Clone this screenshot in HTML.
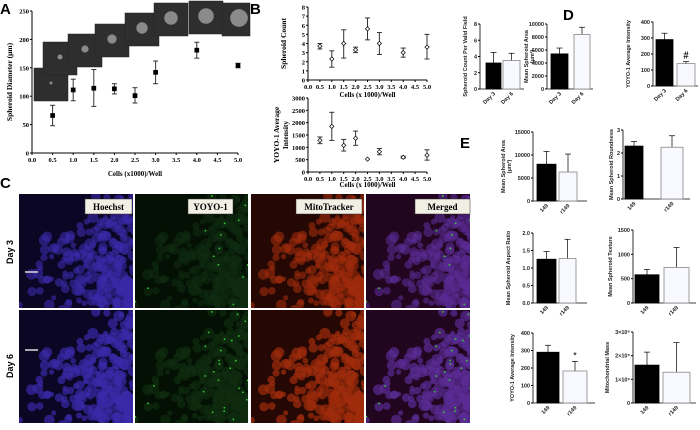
<!DOCTYPE html>
<html><head><meta charset="utf-8"><style>
html,body{margin:0;padding:0;background:#fff;width:700px;height:430px;overflow:hidden}
svg{display:block}
.ser{font-family:"Liberation Serif",serif;font-weight:bold}
.san{font-family:"Liberation Sans",sans-serif}
</style></head><body>
<svg id="fig" width="700" height="430" viewBox="0 0 700 430" xmlns="http://www.w3.org/2000/svg">
<text x="0" y="14" class="san" font-weight="bold" font-size="15">A</text>
<text x="250" y="14" class="san" font-weight="bold" font-size="15">B</text>
<text x="0" y="188" class="san" font-weight="bold" font-size="15">C</text>
<text x="563" y="20" class="san" font-weight="bold" font-size="15">D</text>
<text x="460" y="148" class="san" font-weight="bold" font-size="15">E</text>
<g id="root"></g>
</svg>
<script>
// Panel A data
var aX=[0.5,1,1.5,2,2.5,3,4,5];
var aY=[66,111,114,113,101,142,181,154];
var aLo=[48,92,82,104,88,122,167,150];
var aHi=[84,130,147,122,115,162,195,158];
// Panel B data
var bX=[0.5,1,1.5,2,2.5,3,4,5];
var bCount=[3.7,2.3,4.0,3.3,5.6,4.0,3.0,3.6];
var bCountLo=[3.4,1.4,2.4,3.0,4.4,2.8,2.5,2.3];
var bCountHi=[4.0,3.2,5.5,3.6,6.8,5.2,3.5,5.0];
var bYoyo=[1280,1850,1080,1370,520,820,600,680];
var bYoyoLo=[1150,1280,850,1080,520,700,560,480];
var bYoyoHi=[1420,2420,1320,1660,520,950,640,900];
var xTickLabels=["0.0","0.5","1.0","1.5","2.0","2.5","3.0","3.5","4.0","4.5","5.0"];
// Panel D data
var dCats=["Day 3","Day 6"];
var dCount=[3.2,3.5], dCountErr=[4.5,4.4];
var dArea=[5400,8400], dAreaErr=[6300,9500];
var dYoyo=[290,140], dYoyoErr=[330,152];
// Panel E data
var eCats=["149","r149"];
var eArea=[8000,6300], eAreaErr=[10800,10200];
var eRound=[2.3,2.25], eRoundErr=[2.5,2.75];
var eAspect=[1.25,1.27], eAspectErr=[1.47,1.82];
var eTexture=[580,730], eTextureErr=[690,1140];
var eYoyo=[290,183], eYoyoErr=[330,238];
var eMito=[1.6,1.3], eMitoErr=[2.15,2.55];

var NS="http://www.w3.org/2000/svg", root=document.getElementById('root');
function mk(tag,at,par,txt){var e=document.createElementNS(NS,tag);for(var k in at)e.setAttribute(k,at[k]);if(txt!==undefined)e.textContent=txt;(par||root).appendChild(e);return e;}

// Panel A spheroid inset images
var boxes=[[34,68],[43,42],[68,34],[95,24],[125,13],[154,3],[189,1],[222,3]];
boxes.forEach(function(b,i){
  var g=mk('g',{});
  
  
  mk('rect',{x:b[0],y:b[1],width:34+(i==7?-6:0),height:33,fill:'#2e2e2e',stroke:'#222','stroke-width':0.5},g);
  mk('circle',{cx:b[0]+17,cy:b[1]+15,r:1.5+i*1.05,fill:'#8a8a8a'},g);
});

function scatter(name,L,R,B,T,xmax,ymax,yStep,xs,ys,lo,hi,filled,yTitle,xTitle,xTitleY,yTitleX){
  var g=mk('g',{});
  
  
  function sx(v){return L+(R-L)*v/xmax;} function sy(v){return B-(B-T)*v/ymax;}
  mk('line',{x1:L,y1:B,x2:R,y2:B,stroke:'#000','stroke-width':1},g);
  mk('line',{x1:L,y1:B,x2:L,y2:T,stroke:'#000','stroke-width':1},g);
  for(var i=0;i<xTickLabels.length;i++){var v=i*0.5;
    mk('line',{x1:sx(v),y1:B,x2:sx(v),y2:B+2,stroke:'#000'},g);
    mk('text',{x:sx(v),y:B+9,'text-anchor':'middle','font-size':6.5,class:'ser'},g,xTickLabels[i]);}
  for(var v=0;v<=ymax+1e-9;v+=yStep){
    mk('line',{x1:L-2,y1:sy(v),x2:L,y2:sy(v),stroke:'#000'},g);
    mk('text',{x:L-3,y:sy(v)+2.5,'text-anchor':'end','font-size':6.5,class:'ser'},g,String(v));}
  for(var i=0;i<xs.length;i++){var x=sx(xs[i]);
    if(hi[i]>lo[i]){mk('line',{x1:x,y1:sy(lo[i]),x2:x,y2:sy(hi[i]),stroke:'#333','stroke-width':1},g);
    mk('line',{x1:x-2.5,y1:sy(lo[i]),x2:x+2.5,y2:sy(lo[i]),stroke:'#333'},g);
    mk('line',{x1:x-2.5,y1:sy(hi[i]),x2:x+2.5,y2:sy(hi[i]),stroke:'#333'},g);}
    var p=mk('rect',{x:x-2,y:sy(ys[i])-2,width:4,height:4,fill:filled?'#000':'#fff',stroke:'#000','stroke-width':0.7},g);
    if(!filled){p.setAttribute('transform','rotate(45 '+x+' '+sy(ys[i])+')');p.setAttribute('width',3);p.setAttribute('height',3);p.setAttribute('x',x-1.5);p.setAttribute('y',sy(ys[i])-1.5);}
    
    
  }
  mk('text',{x:(L+R)/2,y:xTitleY,'text-anchor':'middle','font-size':7,class:'ser'},g,xTitle);
  var yt=yTitle.split('\n');
  yt.forEach(function(s,k){mk('text',{x:0,y:0,'text-anchor':'middle','font-size':7.5,class:'ser',transform:'translate('+(yTitleX+k*9)+','+((B+T)/2)+') rotate(-90)'},g,s);});
}
scatter('panel-a-chart',32,238,153,11,5,250,50,aX,aY,aLo,aHi,true,'Spheroid Diameter (μm)','Cells (x1000)/Well',176,12);
scatter('panel-b-count-chart',308,427,80,7,5,8,1,bX,bCount,bCountLo,bCountHi,false,'Spheroid Count','Cells (x 1000)/Well',97,286);
scatter('panel-b-yoyo-chart',308,427,172,98,5,3000,500,bX,bYoyo,bYoyoLo,bYoyoHi,false,'YOYO-1 Average\nIntensity','Cells (x 1000)/Well',187,279);

function bars(name,ax,B,T,ymax,ticks,vals,errs,xs,cats,yTitle,yTitleX,mark,axEnd){
  var g=mk('g',{});
  
  
  function sy(v){return B-(B-T)*v/ymax;}
  mk('line',{x1:ax,y1:B,x2:ax,y2:T,stroke:'#000','stroke-width':0.8},g);
  mk('line',{x1:ax,y1:B,x2:axEnd,y2:B,stroke:'#000','stroke-width':0.8},g);
  ticks.forEach(function(t){mk('line',{x1:ax-2,y1:sy(t[0]),x2:ax,y2:sy(t[0]),stroke:'#000'},g);
    mk('text',{x:ax-3,y:sy(t[0])+2,'text-anchor':'end','font-size':5.5,class:'san','font-weight':'bold','fill':'#222'},g,t[1]);});
  for(var i=0;i<vals.length;i++){var x1=xs[i][0],x2=xs[i][1],c=(x1+x2)/2;
    mk('line',{x1:c,y1:sy(vals[i]),x2:c,y2:sy(errs[i]),stroke:'#000','stroke-width':0.7},g);
    mk('line',{x1:c-3,y1:sy(errs[i]),x2:c+3,y2:sy(errs[i]),stroke:'#000','stroke-width':0.7},g);
    var r=mk('rect',{x:x1,y:sy(vals[i]),width:x2-x1,height:B-sy(vals[i]),fill:i==0?'#000':'#f8f8ff',stroke:i==0?'#000':'#888','stroke-width':0.8},g);
    
    
    mk('text',{x:c+2,y:B+5,'text-anchor':'end','font-size':5.5,class:'san','font-weight':'bold',fill:'#222',transform:'rotate(-45 '+(c+2)+' '+(B+5)+')'},g,cats[i]);
    if(mark&&i==1)mk('text',{x:c,y:sy(errs[i])-3,'text-anchor':'middle','font-size':mark=='#'?10:9,class:mark=='#'?'ser':'san'},g,mark);
  }
  var yt=yTitle.split('\n');
  yt.forEach(function(s,k){mk('text',{x:0,y:0,'text-anchor':'middle','font-size':5.5,class:'san','font-weight':'bold',fill:'#222',transform:'translate('+(yTitleX+k*6)+','+((B+T)/2)+') rotate(-90)'},g,s);});
}
function tk(arr){return arr.map(function(v){return [v,String(v)];});}
bars('d-count-chart',480,89,24,8,tk([0,2,4,6,8]),dCount,dCountErr,[[486,501],[503,520]],dCats,'Spheroid Count Per Valid Field',467,null,524);
bars('d-area-chart',547,89,24,10000,tk([0,2000,4000,6000,8000,10000]),dArea,dAreaErr,[[551,568],[574,590]],dCats,'Mean Spheroid Area\n(μm²)',528,null,593);
bars('d-yoyo-chart',653,86,22,400,tk([0,100,200,300,400]),dYoyo,dYoyoErr,[[656,673],[677,695]],dCats,'YOYO-1 Average Intensity',630,'#',698);
bars('e-area-chart',533,201,132,15000,tk([0,5000,10000,15000]),eArea,eAreaErr,[[537,556],[559,577]],eCats,'Mean Spheroid Area\n(μm²)',505,null,587);
bars('e-roundness-chart',623,199,130,3,tk([0,1,2,3]),eRound,eRoundErr,[[625,643],[661,683]],eCats,'Mean Spheroid Roundness',613,null,690);
bars('e-aspect-chart',533,303,233,2,[[0,'0.0'],[0.5,'0.5'],[1,'1.0'],[1.5,'1.5'],[2,'2.0']],eAspect,eAspectErr,[[537,556],[559,576]],eCats,'Mean Spheroid Aspect Ratio',510,null,587);
bars('e-texture-chart',633,303,230,1500,tk([0,500,1000,1500]),eTexture,eTextureErr,[[635,659],[664,689]],eCats,'Mean Spheroid Texture',612,null,696);
bars('e-yoyo-chart',533,403,333,400,tk([0,100,200,300,400]),eYoyo,eYoyoErr,[[537,559],[563,587]],eCats,'YOYO-1 Average Intensity',514,'*',595);
bars('e-mito-chart',633,403,332,3,[[0,'0'],[1,'1×10⁶'],[2,'2×10⁶'],[3,'3×10⁶']],eMito,eMitoErr,[[635,659],[663,690]],eCats,'Mitochondrial Mass',609,null,696);

// Panel C microscopy images
var seed=7;function rnd(){seed=(seed*16807)%2147483647;return seed/2147483647;}
var cols=[[19,133],[135,248],[251,364],[366,470]];
var rows=[[194,308],[310,423]];
var bg=['#0a0624','#031003','#250804','#220620'];
var fg=['#3a2aa8','#0f2c10','#a02c0c','#5a2c94'];
var names=['Hoechst','YOYO-1','MitoTracker','Merged'];
var labelBox=[[85,47],[188,45],[296,66],[415,55]];
var cells=[];for(var k=0;k<260;k++){var u=rnd(),v=rnd();var x=Math.pow(u,0.6),y=Math.pow(v,0.7);if(x+y<0.75&&rnd()<0.85)continue;cells.push([x,y,2.5+rnd()*3.5]);}
rows.forEach(function(rw,ri){cols.forEach(function(c,ci){
  var g=mk('g',{});
  
  
  var w=c[1]-c[0],h=rw[1]-rw[0];
  mk('rect',{x:c[0],y:rw[0],width:w,height:h,fill:bg[ci]},g);
  var cp='clip'+ri+ci;var d=mk('clipPath',{id:cp},g);mk('rect',{x:c[0],y:rw[0],width:w,height:h},d);
  var gg=mk('g',{'clip-path':'url(#'+cp+')'},g);
  cells.forEach(function(p){mk('circle',{cx:c[0]+p[0]*118,cy:rw[0]+p[1]*(h+4),r:p[2],fill:fg[ci],opacity:ri?0.7:0.6},gg);});
  if(ci==1||ci==3){for(var k=0;k<(ri?30:14);k++){var p=cells[(k*7)%cells.length];mk('circle',{cx:c[0]+p[0]*118,cy:rw[0]+p[1]*h,r:0.9,fill:'#3c3'},gg);}}
  if(ri==0){var lb=labelBox[ci];var l=mk('g',{});
    
    
    mk('rect',{x:lb[0],y:199,width:lb[1],height:15,fill:'#f2f0e4',stroke:'#333','stroke-width':0.5},l);
    mk('text',{x:lb[0]+lb[1]/2,y:210,'text-anchor':'middle','font-size':9,class:'ser'},l,names[ci]);}
});});
mk('line',{x1:25,y1:272,x2:38,y2:272,stroke:'#ddd','stroke-width':1.5});
mk('line',{x1:25,y1:350,x2:38,y2:350,stroke:'#ddd','stroke-width':1.5});
var d3=mk('text',{x:0,y:0,'text-anchor':'middle','font-size':9,class:'san','font-weight':'bold',transform:'translate(13,252) rotate(-90)'},root,'Day 3');


var d6=mk('text',{x:0,y:0,'text-anchor':'middle','font-size':9,class:'san','font-weight':'bold',transform:'translate(13,366) rotate(-90)'},root,'Day 6');


</script>
</body></html>
